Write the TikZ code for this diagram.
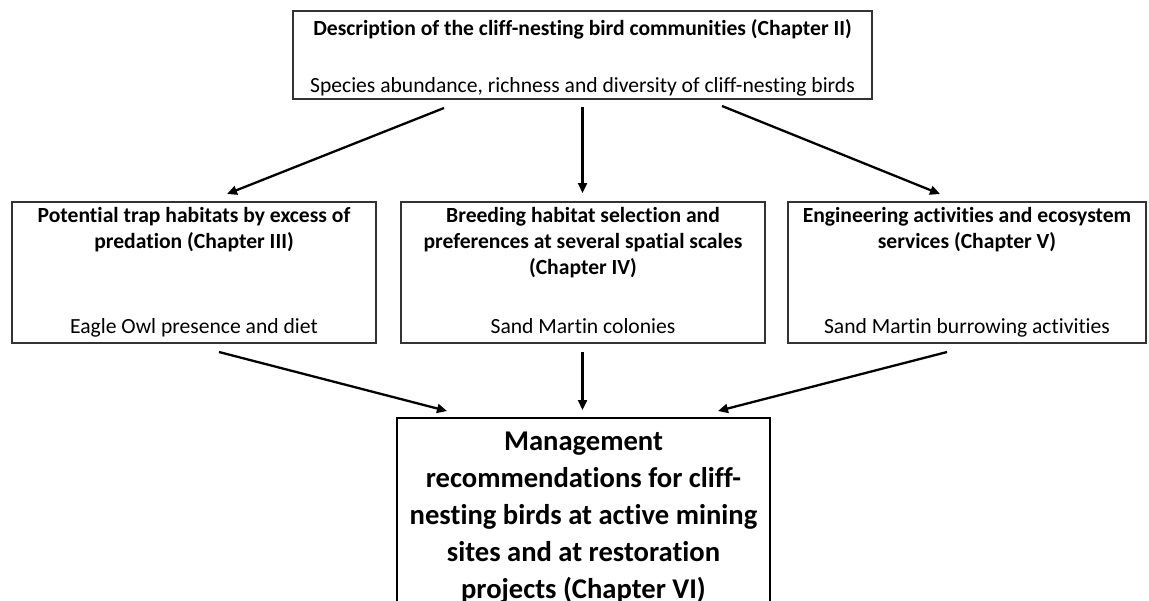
\documentclass[tikz,border=0pt]{standalone}
\usepackage{fontspec}
\setmainfont[Ligatures={NoCommon}]{Carlito}
\usetikzlibrary{arrows.meta}
\tikzset{
  box/.style={draw=black!80, line width=1.1pt, inner sep=0pt},
  bigbox/.style={draw=black, line width=2.8pt, inner sep=0pt},
  titletext/.style={font=\fontsize{21.6}{26}\selectfont\bfseries, align=center, inner sep=0pt},
  subtext/.style={font=\fontsize{21.6}{26}\selectfont, align=center, inner sep=0pt},
  bigtext/.style={font=\fontsize{28.6}{37}\selectfont\bfseries, align=center, inner sep=0pt},
  arr/.style={line width=2.3pt, -{Triangle[length=10pt,width=9pt]}}
}
\begin{document}
\begin{tikzpicture}[x=1pt,y=-1pt]
\useasboundingbox (0,0) rectangle (1149,600);
% boxes
\node[box, minimum width=579pt, minimum height=88pt] (top) at (582.5,55) {};
\node[box, minimum width=364pt, minimum height=141pt] (left) at (194,272.5) {};
\node[box, minimum width=364pt, minimum height=141pt] (mid) at (583,272.5) {};
\node[box, minimum width=358pt, minimum height=141pt] (right) at (967,272.5) {};
\node[bigbox, minimum width=373pt, minimum height=200pt] (bot) at (583.5,518) {};
% texts
\node[titletext, anchor=base] (toptitle) at (582.5,35) {Description of the cliff-nesting bird communities (Chapter II)};
\node[subtext, anchor=base] (topsub) at (582.5,92) {Species abundance, richness and diversity of cliff-nesting birds};
\node[titletext, anchor=north] (lefttitle) at (194,207) {Potential trap habitats by excess of\\predation (Chapter III)};
\node[subtext, anchor=base] (leftsub) at (194,333) {Eagle Owl presence and diet};
\node[titletext, anchor=north] (midtitle) at (583,207) {Breeding habitat selection and\\preferences at several spatial scales\\(Chapter IV)};
\node[subtext, anchor=base] (midsub) at (583,333) {Sand Martin colonies};
\node[titletext, anchor=north] (righttitle) at (967,207) {Engineering activities and ecosystem\\services (Chapter V)};
\node[subtext, anchor=base] (rightsub) at (967,333) {Sand Martin burrowing activities};
\node[bigtext, anchor=north] (bottext) at (583.5,432) {Management\\recommendations for cliff-\\nesting birds at active mining\\sites and at restoration\\projects (Chapter VI)};
% connector end points
\coordinate (t1) at (444,108);
\coordinate (t2) at (582.5,107);
\coordinate (t3) at (722,106);
\coordinate (m1) at (227,194);
\coordinate (m2) at (582.5,193);
\coordinate (m3) at (940,194);
\coordinate (l1) at (219,352);
\coordinate (l2) at (582.5,352);
\coordinate (l3) at (947,352);
\coordinate (b1) at (447,411);
\coordinate (b2) at (582.5,410);
\coordinate (b3) at (718,411);
\draw[arr] (t1) -- (m1);
\draw[arr] (t2) -- (m2);
\draw[arr] (t3) -- (m3);
\draw[arr] (l1) -- (b1);
\draw[arr] (l2) -- (b2);
\draw[arr] (l3) -- (b3);
\end{tikzpicture}
\end{document}
